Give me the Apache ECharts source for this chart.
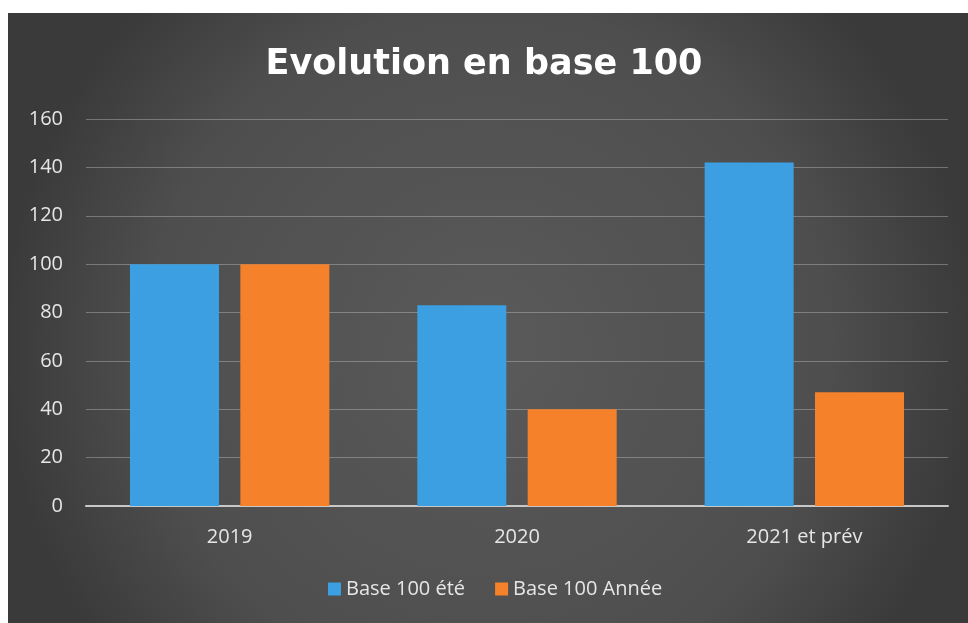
<!DOCTYPE html>
<html>
<head>
<meta charset="utf-8">
<script src="https://cdn.jsdelivr.net/npm/echarts@6/dist/echarts.min.js"></script>
<style>
  html, body { margin: 0; padding: 0; background: #fff; }
  #container { width: 968px; height: 623px; }
</style>
</head>
<body>
<div id="container"></div>
<script>
var categories = ['2019', '2020', '2021 et prév'];
var baseEte = [100, 83, 142];
var baseAnnee = [100, 40, 47];
var seriesNames = ['Base 100 été', 'Base 100 Année'];
var yTicks = { min: 0, max: 160, interval: 20 };

var echartBar = echarts.init(document.getElementById('container'));
var option = {
  backgroundColor: '#ffffff',
  textStyle: { fontFamily: 'Open Sans' },
  graphic: [{
    type: 'rect',
    z: -10,
    silent: true,
    shape: { x: 8, y: 13, width: 960, height: 610 },
    style: {
      fill: {
        type: 'radial', x: 0.5, y: 0.55, r: 0.8,
        colorStops: [
          { offset: 0, color: '#5a5a5a' },
          { offset: 0.7, color: '#4e4e4e' },
          { offset: 1, color: '#3a3a3a' }
        ]
      }
    }
  }],
  title: {
    text: 'Evolution en base 100',
    left: 'center',
    top: 42,
    textStyle: {
      color: '#ffffff',
      fontSize: 35,
      fontWeight: 'bold',
      fontFamily: 'DejaVu Sans'
    }
  },
  legend: {
    bottom: 19,
    left: 323,
    itemWidth: 13,
    itemHeight: 13,
    itemGap: 30,
    icon: 'rect',
    textStyle: { color: '#e6e6e6', fontSize: 20 },
    data: seriesNames
  },
  grid: {
    left: 86,
    right: 20,
    top: 119,
    bottom: 117
  },
  xAxis: {
    type: 'category',
    data: categories,
    axisLine: { lineStyle: { color: '#c8c8c8', width: 2 } },
    axisTick: { show: false },
    axisLabel: { color: '#e6e6e6', fontSize: 20, margin: 21 }
  },
  yAxis: {
    type: 'value',
    min: yTicks.min,
    max: yTicks.max,
    interval: yTicks.interval,
    axisLine: { show: false },
    axisTick: { show: false },
    axisLabel: { color: '#e6e6e6', fontSize: 20, margin: 23 },
    splitLine: { lineStyle: { color: 'rgba(200,200,200,0.4)', width: 1 } }
  },
  series: [{
    name: seriesNames[0],
    type: 'bar',
    data: baseEte,
    barWidth: 89,
    barGap: '24%',
    itemStyle: { color: '#3b9fe2' }
  }, {
    name: seriesNames[1],
    type: 'bar',
    data: baseAnnee,
    barWidth: 89,
    itemStyle: { color: '#f5812a' }
  }]
};
echartBar.setOption(option);
</script>
</body>
</html>
